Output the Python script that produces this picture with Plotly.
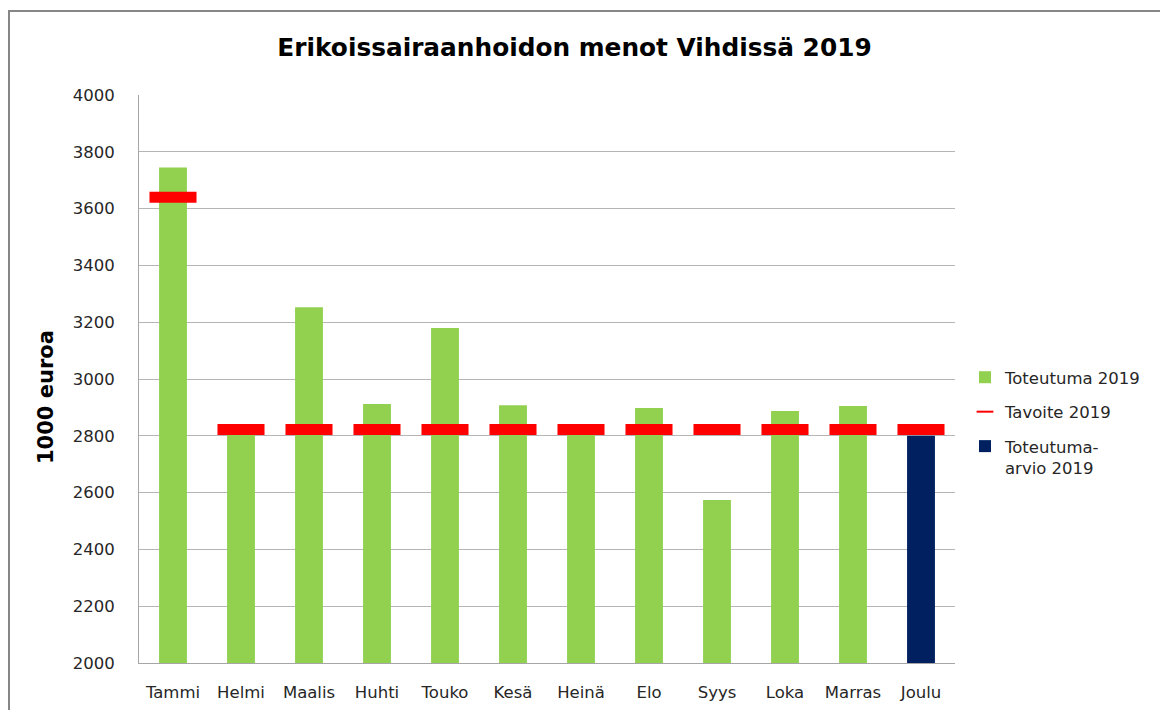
import plotly.graph_objects as go

months = ["Tammi", "Helmi", "Maalis", "Huhti", "Touko", "Kesä", "Heinä",
          "Elo", "Syys", "Loka", "Marras", "Joulu"]
toteutuma = [3745, 2810, 3253, 2912, 3180, 2908, 2812, 2898, 2574, 2887, 2905]
arvio_month = ["Joulu"]
arvio = [2800]
tavoite = [3640, 2822, 2822, 2822, 2822, 2822, 2822, 2822, 2822, 2822, 2822, 2822]

FONT = "DejaVu Sans"
TXT = "#262626"

fig = go.Figure()
fig.add_trace(go.Bar(
    x=months[:11], y=toteutuma, name="Toteutuma 2019",
    marker=dict(color="#92D050", line=dict(width=0)), width=0.41,
    legendrank=1, legendgroup="a",
))
fig.add_trace(go.Bar(
    x=arvio_month, y=arvio, name="Toteutuma-<br>arvio 2019",
    marker=dict(color="#002060", line=dict(width=0)), width=0.41,
    legendrank=3, legendgroup="c",
))
fig.add_trace(go.Scatter(
    x=months, y=tavoite, name="Tavoite 2019", mode="markers",
    marker=dict(symbol="line-ew", size=33.6, color="#FF0000",
                line=dict(color="#FF0000", width=11)),
    legendrank=2, legendgroup="b",
))

# page is rendered with an 8px body offset
OFF = 8
W, H = 1168, 710
L, R, T, B = 139 - OFF, 955 - OFF, 95 - OFF, 663 - OFF
pw, ph = R - L, B - T
def px(x): return (x - OFF - L) / pw
def py(y): return (B - (y - OFF)) / ph

fig.update_layout(
    width=W, height=H,
    margin=dict(l=L, r=W - R, t=T, b=H - B),
    paper_bgcolor="white", plot_bgcolor="white",
    barmode="overlay",
    font=dict(family=FONT, size=16.5, color=TXT),
    title=dict(text="<b>Erikoissairaanhoidon menot Vihdissä 2019</b>",
               font=dict(family=FONT, size=24.8, color="black"),
               x=(574.5 - OFF) / W, xanchor="center", y=1 - (47 - OFF) / H,
               yanchor="middle"),
    showlegend=True,
    legend=dict(x=px(965), xanchor="left", y=py(360), yanchor="top",
                font=dict(family=FONT, size=16.5, color=TXT),
                tracegroupgap=10, itemsizing="constant", valign="top",
                bgcolor="rgba(0,0,0,0)"),
    xaxis=dict(range=[-0.5, 11.5], showgrid=False, showline=True,
               linecolor="#A6A6A6", linewidth=1, ticks="",
               tickfont=dict(family=FONT, size=16.5, color=TXT),
               ticklabelstandoff=14, fixedrange=True),
    yaxis=dict(range=[2000, 4000], dtick=200, showgrid=True,
               gridcolor="#B5B5B5", gridwidth=1, showline=True,
               linecolor="#A6A6A6", linewidth=1, ticks="",
               tickfont=dict(family=FONT, size=16.5, color=TXT),
               ticklabelstandoff=20, zeroline=False),
    annotations=[
        dict(text="<b>1000 euroa</b>", xref="paper", yref="paper",
             x=px(46), y=py(397), xanchor="center", yanchor="middle",
             textangle=-90, showarrow=False,
             font=dict(family=FONT, size=21, color="black")),
    ],
    shapes=[
        dict(type="line", xref="paper", yref="paper", x0=px(9), x1=px(1200),
             y0=py(11), y1=py(11), line=dict(color="#868686", width=2)),
        dict(type="line", xref="paper", yref="paper", x0=px(9), x1=px(9),
             y0=py(10), y1=py(720), line=dict(color="#868686", width=2)),
    ],
)

fig.write_html("out.html")
